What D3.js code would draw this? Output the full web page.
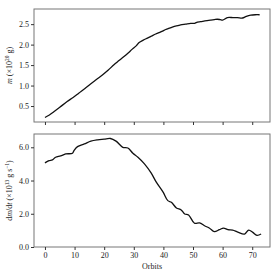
<!DOCTYPE html>
<html>
<head>
<meta charset="UTF-8">
<script src="https://cdn.jsdelivr.net/npm/d3@7"></script>
<style>
body { margin:0; background:#fff; }
svg text { font-family:"Liberation Serif", "DejaVu Serif", serif; fill:#222; }
.axis text { font-size:8px; fill:#222; }
.axis line { stroke:#333; }
.axis path { display:none; }
.frame { fill:none; stroke:#777; stroke-width:1; }
</style>
</head>
<body>
<div id="chart"></div>
<script>
// mass curve (top)
var massOrbits = [0,1.5,3,5,7.5,9.5,11.5,13.5,15.4,17.4,19.4,21.4,23.3,25,26.7,28,29.5,30.8,31.8,33.2,34.6,36,37.4,38.8,40.2,41.6,43,44.4,45.8,47.5,49.2,50.5,51.5,52.6,54,56,57.2,58.2,59.2,60,61.6,63.5,65,66.7,68,69.5,71,72.5];
var massValues = [0.22,0.28,0.36,0.47,0.61,0.71,0.82,0.93,1.04,1.15,1.26,1.38,1.51,1.61,1.71,1.79,1.89,1.97,2.05,2.11,2.16,2.21,2.26,2.30,2.35,2.39,2.43,2.46,2.48,2.50,2.52,2.52,2.55,2.56,2.58,2.60,2.61,2.62,2.61,2.60,2.66,2.66,2.66,2.65,2.69,2.72,2.73,2.73];

// mass rate curve (bottom)
var rateOrbits = [0,1.4,2.5,3.6,5.3,7,9.3,9.8,11,13.3,15.5,17.8,20,22.1,24,26.3,28,29.7,31.4,33.6,35.9,37.6,39.9,41.5,42.7,44.4,46,47.2,48.5,50.5,52.2,53.9,55.6,57.2,58.9,60.3,61.8,63.4,65.1,67.4,68.8,70.2,71.6,73];
var rateValues = [5.06,5.2,5.24,5.4,5.48,5.6,5.64,5.8,6.04,6.2,6.37,6.45,6.49,6.53,6.37,6.0,5.96,5.64,5.4,5.0,4.44,3.9,3.3,2.79,2.69,2.35,2.23,1.99,1.93,1.43,1.45,1.28,1.13,0.92,1.04,1.14,1.04,1.02,0.9,0.78,1.02,0.88,0.7,0.78];

var xTicks = [0,10,20,30,40,50,60,70];
var massTicks = [0.5,1.0,1.5,2.0,2.5];
var rateTicks = [0,2,4,6];

var width = 280, height = 280;
var left = 34, right = 270;
var top1 = 9, bot1 = 122, top2 = 134, bot2 = 247;

var svg = d3.select("#chart").append("svg")
  .attr("width", width).attr("height", height);

var x = d3.scaleLinear().domain([-3.7, 76]).range([left, right]);
var y1 = d3.scaleLinear().domain([0.11, 2.87]).range([bot1, top1]);
var y2 = d3.scaleLinear().domain([0, 6.8]).range([bot2, top2]);

//枠
svg.append("rect").attr("class","frame")
  .attr("x", left).attr("y", top1).attr("width", right-left).attr("height", bot1-top1);
svg.append("rect").attr("class","frame")
  .attr("x", left).attr("y", top2).attr("width", right-left).attr("height", bot2-top2);

//軸
svg.append("g").attr("class","axis")
  .attr("transform","translate(0,"+bot1+")")
  .call(d3.axisBottom(x).tickValues(xTicks).tickSize(3).tickFormat(""));
svg.append("g").attr("class","axis")
  .attr("transform","translate("+left+",0)")
  .call(d3.axisLeft(y1).tickValues(massTicks).tickSize(3).tickPadding(2).tickFormat(d3.format(".1f")));
svg.append("g").attr("class","axis")
  .attr("transform","translate(0,"+bot2+")")
  .call(d3.axisBottom(x).tickValues(xTicks).tickSize(3).tickPadding(2));
svg.append("g").attr("class","axis")
  .attr("transform","translate("+left+",0)")
  .call(d3.axisLeft(y2).tickValues(rateTicks).tickSize(3).tickPadding(2));

//折れ線
var massLine = d3.line()
  .x(function(d,i){ return x(massOrbits[i]); })
  .y(function(d){ return y1(d); })
  .curve(d3.curveCatmullRom);
var rateLine = d3.line()
  .x(function(d,i){ return x(rateOrbits[i]); })
  .y(function(d){ return y2(d); })
  .curve(d3.curveCatmullRom);

svg.append("path").attr("d", massLine(massValues))
  .attr("fill","none").attr("stroke","#111").attr("stroke-width",1.3);
svg.append("path").attr("d", rateLine(rateValues))
  .attr("fill","none").attr("stroke","#111").attr("stroke-width",1.3);

//ラベル
var l1 = svg.append("text")
  .attr("transform","translate(12,"+((top1+bot1)/2)+") rotate(-90)")
  .attr("text-anchor","middle").attr("font-size",8);
l1.append("tspan").attr("font-style","italic").text("m");
l1.append("tspan").text(" (×10");
l1.append("tspan").attr("baseline-shift","super").attr("font-size",5.5).text("20");
l1.append("tspan").text(" g)");

var l2 = svg.append("text")
  .attr("transform","translate(12,"+((top2+bot2)/2)+") rotate(-90)")
  .attr("text-anchor","middle").attr("font-size",8);
l2.append("tspan").text("d");
l2.append("tspan").attr("font-style","italic").text("m");
l2.append("tspan").text("/d");
l2.append("tspan").attr("font-style","italic").text("t");
l2.append("tspan").text(" (×10");
l2.append("tspan").attr("baseline-shift","super").attr("font-size",5.5).text("13");
l2.append("tspan").text(" g s");
l2.append("tspan").attr("baseline-shift","super").attr("font-size",5.5).text("−1");
l2.append("tspan").text(")");

svg.append("text").text("Orbits")
  .attr("x", (left+right)/2).attr("y", 269)
  .attr("text-anchor","middle").attr("font-size",8);
</script>
</body>
</html>
